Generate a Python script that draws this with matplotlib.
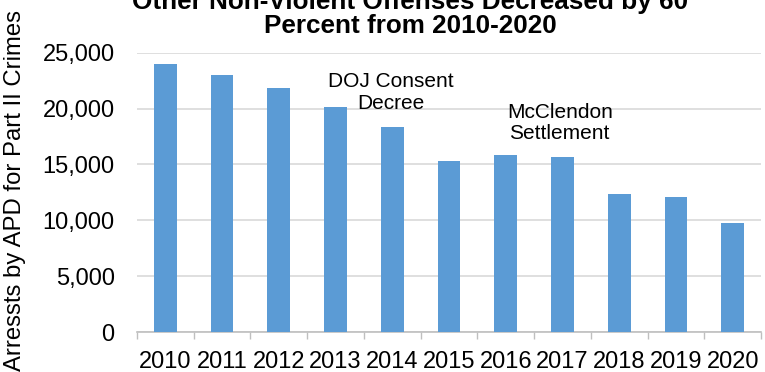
import numpy as np
import matplotlib.pyplot as plt
from matplotlib.ticker import FuncFormatter, MultipleLocator

plt.rcParams['font.family'] = ['Liberation Sans', 'DejaVu Sans']

# arrests per year
years = ['2010', '2011', '2012', '2013', '2014', '2015', '2016', '2017', '2018', '2019', '2020']
arrests = [24000, 23000, 21850, 20130, 18380, 15280, 15860, 15680, 12370, 12070, 9770]

x = np.arange(len(years))

fig = plt.figure(figsize=(7.65, 3.72), dpi=100)
ax = fig.add_axes([0.179, 0.1075, 0.816, 0.7505])

ax.bar(x, arrests, width=0.4, color='#5B9BD5', zorder=3)

ax.set_xlim(-0.5, len(years) - 0.5)
ax.set_ylim(0, 25000)
ax.yaxis.set_major_locator(MultipleLocator(5000))
ax.yaxis.set_major_formatter(FuncFormatter(lambda v, p: f'{int(v):,}'))
ax.grid(axis='y', color='#D9D9D9', linewidth=1.2, zorder=0)

ax.set_xticks(x)
ax.set_xticklabels(years)
ax.set_xticks(np.arange(-0.5, len(years)), minor=True)
ax.tick_params(axis='x', which='major', length=0, labelsize=17, pad=14)
ax.tick_params(axis='x', which='minor', length=5, color='#BFBFBF', width=1)
ax.tick_params(axis='y', length=0, labelsize=17, pad=16)

for side in ['top', 'right', 'left']:
    ax.spines[side].set_visible(False)
ax.spines['bottom'].set_color('#BFBFBF')
ax.spines['bottom'].set_linewidth(1.2)

fig.text(0.019, 0.489, 'Arressts by APD for Part II Crimes', rotation=90,
         ha='center', va='center', fontsize=17.2)

ax.text(3.97, 21450, 'DOJ Consent\nDecree', ha='center', va='center',
        fontsize=15, linespacing=1.15)
ax.text(6.95, 18700, 'McClendon\nSettlement', ha='center', va='center',
        fontsize=15, linespacing=1.15)

fig.text(0.536, 0.912, 'Other Non-Violent Offenses Decreased by 60\nPercent from 2010-2020',
         ha='center', va='baseline', fontsize=18.8, fontweight='bold', linespacing=1.0)

fig.savefig('out.png', dpi=100)
